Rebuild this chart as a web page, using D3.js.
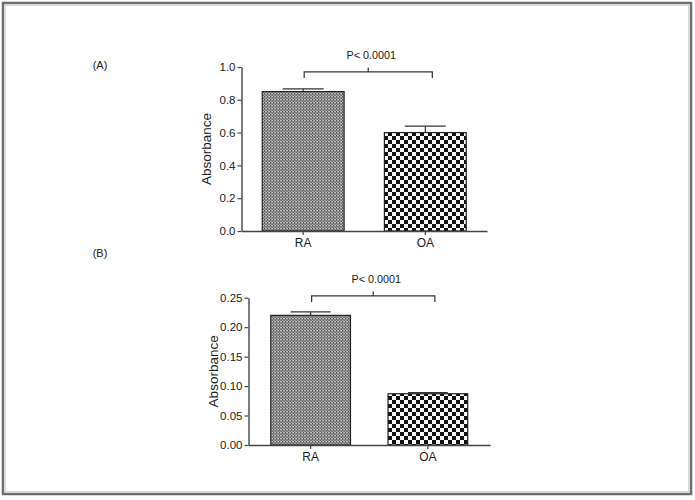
<!DOCTYPE html>
<html>
<head>
<meta charset="utf-8">
<script src="https://cdn.jsdelivr.net/npm/d3@7"></script>
<style>
  body { margin: 0; background: #fff; }
  svg text { font-family: "Liberation Sans", Arial, sans-serif; fill: #222; }
</style>
</head>
<body>
<script>
let w = 695;
let h = 500;

// data
let categories = ['RA', 'OA'];
let valuesA = [0.85, 0.60];
let errorsA = [0.017, 0.04];
let valuesB = [0.22, 0.087];
let errorsB = [0.006, 0.002];
let ticksA = [0, 0.2, 0.4, 0.6, 0.8, 1.0];
let ticksB = [0, 0.05, 0.10, 0.15, 0.20, 0.25];
let pLabel = 'P< 0.0001';

let svg = d3.select('body')
  .append('svg')
  .attr('width', w)
  .attr('height', h);

let defs = svg.append('defs');

// fine gray pattern for RA
let p1 = defs.append('pattern')
  .attr('id', 'pat-ra')
  .attr('patternUnits', 'userSpaceOnUse')
  .attr('width', 3)
  .attr('height', 3);
p1.append('rect').attr('width', 3).attr('height', 3).attr('fill', '#a8a8a8');
p1.append('rect').attr('width', 1.5).attr('height', 1.5).attr('fill', '#4a4a4a');
p1.append('rect').attr('x', 1.5).attr('y', 1.5).attr('width', 1.5).attr('height', 1.5).attr('fill', '#6a6a6a');
p1.append('rect').attr('x', 1.5).attr('y', 0).attr('width', 1).attr('height', 1).attr('fill', '#e8e8e8');

// black/white checker for OA
let p2 = defs.append('pattern')
  .attr('id', 'pat-oa')
  .attr('patternUnits', 'userSpaceOnUse')
  .attr('width', 8)
  .attr('height', 8);
p2.append('rect').attr('width', 8).attr('height', 8).attr('fill', '#fff');
p2.append('rect').attr('width', 4).attr('height', 4).attr('fill', '#111');
p2.append('rect').attr('x', 4).attr('y', 4).attr('width', 4).attr('height', 4).attr('fill', '#111');

let fills = ['url(#pat-ra)', 'url(#pat-oa)'];

// outer frame
svg.append('rect')
  .attr('x', 3)
  .attr('y', 3)
  .attr('width', 688)
  .attr('height', 491)
  .attr('fill', 'none')
  .attr('stroke', '#6e6e6e')
  .attr('stroke-width', 2.5);
svg.append('rect')
  .attr('x', 5.5)
  .attr('y', 5.5)
  .attr('width', 683)
  .attr('height', 486)
  .attr('fill', 'none')
  .attr('stroke', '#d8d8d8')
  .attr('stroke-width', 1);

function drawPanel(cfg) {
  let g = svg.append('g');

  let xScale = d3.scaleBand()
    .domain(categories)
    .range([cfg.left, cfg.right])
    .paddingInner(cfg.padIn)
    .paddingOuter(cfg.padOut);

  let yScale = d3.scaleLinear()
    .domain(cfg.domain)
    .range([cfg.bottom, cfg.top]);

  // bars
  g.selectAll('rect.bar')
    .data(cfg.values)
    .enter()
    .append('rect')
    .attr('class', 'bar')
    .attr('x', (d, i) => xScale(categories[i]))
    .attr('y', (d) => yScale(d))
    .attr('width', xScale.bandwidth())
    .attr('height', (d) => yScale(0) - yScale(d))
    .attr('fill', (d, i) => fills[i])
    .attr('stroke', '#222')
    .attr('stroke-width', 1.2);

  // error bars (upper only)
  cfg.values.forEach((v, i) => {
    let cx = xScale(categories[i]) + xScale.bandwidth() / 2;
    let half = xScale.bandwidth() / 4;
    g.append('line')
      .attr('x1', cx).attr('x2', cx)
      .attr('y1', yScale(v)).attr('y2', yScale(v + cfg.errors[i]))
      .attr('stroke', '#333').attr('stroke-width', 1.2);
    g.append('line')
      .attr('x1', cx - half).attr('x2', cx + half)
      .attr('y1', yScale(v + cfg.errors[i])).attr('y2', yScale(v + cfg.errors[i]))
      .attr('stroke', '#333').attr('stroke-width', 1.2);
  });

  let yAxis = d3.axisLeft(yScale)
    .tickValues(cfg.ticks)
    .tickFormat(d3.format(cfg.fmt))
    .tickSizeInner(4)
    .tickSizeOuter(0)
    .tickPadding(2);

  let xAxis = d3.axisBottom(xScale)
    .tickSizeInner(4)
    .tickSizeOuter(0)
    .tickPadding(3);

  let ya = g.append('g')
    .attr('transform', 'translate(' + cfg.left + ', 0)')
    .call(yAxis);
  let xa = g.append('g')
    .attr('transform', 'translate(0, ' + cfg.bottom + ')')
    .call(xAxis);

  [ya, xa].forEach((a) => {
    a.select('.domain').attr('stroke', '#444').attr('stroke-width', 1.4);
    a.selectAll('.tick line').attr('stroke', '#444').attr('stroke-width', 1.2);
    a.selectAll('text').attr('fill', '#222').style('font-family', '"Liberation Sans", Arial, sans-serif');
  });
  ya.selectAll('text').style('font-size', '11.5px');
  xa.selectAll('text').style('font-size', '12px');

  // y title
  g.append('text')
    .attr('transform', 'translate(' + (cfg.left - 31) + ',' + ((cfg.top + cfg.bottom) / 2) + ') rotate(-90)')
    .attr('text-anchor', 'middle')
    .style('font-size', '13.5px')
    .text('Absorbance');

  // significance bracket
  let bx1 = xScale('RA') + xScale.bandwidth() / 2 + 1;
  let bx2 = xScale('OA') + xScale.bandwidth() / 2 + 7;
  let by = yScale(cfg.bracket);
  let bmid = (bx1 + bx2) / 2;
  g.append('path')
    .attr('d', 'M' + bx1 + ',' + (by + 6) + 'V' + by + 'H' + bx2 + 'V' + (by + 6) +
      'M' + bmid + ',' + by + 'V' + (by - 4.5))
    .attr('fill', 'none')
    .attr('stroke', '#333')
    .attr('stroke-width', 1.2);
  g.append('text')
    .attr('x', bmid + 3)
    .attr('y', by - 12.5)
    .attr('text-anchor', 'middle')
    .style('font-size', '10.8px')
    .text(pLabel);

  // panel letter
  g.append('text')
    .attr('x', 100)
    .attr('y', cfg.letterY)
    .attr('text-anchor', 'middle')
    .style('font-size', '11px')
    .text(cfg.letter);
}

drawPanel({
  values: valuesA, errors: errorsA, ticks: ticksA, fmt: '.1f',
  domain: [0, 1], top: 67, bottom: 231, left: 241.5, right: 487,
  padIn: 0.33, padOut: 0.17, bracket: 0.97, letter: '(A)', letterY: 69
});

drawPanel({
  values: valuesB, errors: errorsB, ticks: ticksB, fmt: '.2f',
  domain: [0, 0.25], top: 297.7, bottom: 445, left: 248.5, right: 490,
  padIn: 0.32, padOut: 0.19, bracket: 0.253, letter: '(B)', letterY: 257
});
</script>
</body>
</html>
